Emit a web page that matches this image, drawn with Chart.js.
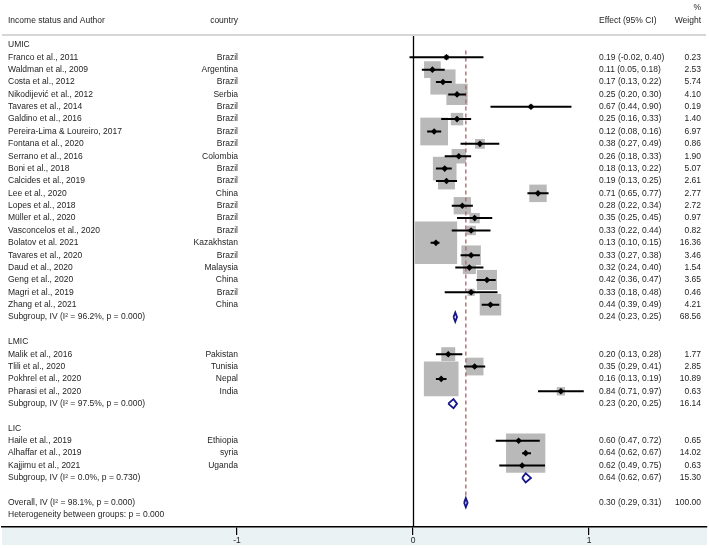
<!DOCTYPE html>
<html>
<head>
<meta charset="utf-8">
<script src="https://cdn.jsdelivr.net/npm/chart.js@4"></script>
<style>
  body { margin: 0; background: #fff; }
  canvas { display: block; }
</style>
</head>
<body>
<canvas id="forest" width="709" height="548"></canvas>
<script>
// studies, in the order they are listed
const studyNames = [
  'Franco et al., 2011', 'Waldman et al., 2009', 'Costa et al., 2012', 'Nikodijević et al., 2012',
  'Tavares et al., 2014', 'Galdino et al., 2016', 'Pereira-Lima & Loureiro, 2017', 'Fontana et al., 2020',
  'Serrano et al., 2016', 'Boni et al., 2018', 'Calcides et al., 2019', 'Lee et al., 2020',
  'Lopes et al., 2018', 'Müller et al., 2020', 'Vasconcelos et al., 2020', 'Bolatov et al. 2021',
  'Tavares et al., 2020', 'Daud et al., 2020', 'Geng et al., 2020', 'Magri et al., 2019', 'Zhang et al., 2021',
  'Malik et al., 2016', 'Tlili et al., 2020', 'Pokhrel et al., 2020', 'Pharasi et al., 2020',
  'Haile et al., 2019', 'Alhaffar et al., 2019', 'Kajjimu et al., 2021'
];
const countries = [
  'Brazil', 'Argentina', 'Brazil', 'Serbia', 'Brazil', 'Brazil', 'Brazil', 'Brazil', 'Colombia', 'Brazil',
  'Brazil', 'China', 'Brazil', 'Brazil', 'Brazil', 'Kazakhstan', 'Brazil', 'Malaysia', 'China', 'Brazil', 'China',
  'Pakistan', 'Tunisia', 'Nepal', 'India',
  'Ethiopia', 'syria', 'Uganda'
];
const studyGroup = [
  0, 0, 0, 0, 0, 0, 0, 0, 0, 0, 0, 0, 0, 0, 0, 0, 0, 0, 0, 0, 0,
  1, 1, 1, 1,
  2, 2, 2
];
const effects = [0.19, 0.11, 0.17, 0.25, 0.67, 0.25, 0.12, 0.38, 0.26, 0.18, 0.19, 0.71, 0.28, 0.35, 0.33, 0.13, 0.33, 0.32, 0.42, 0.33, 0.44,
  0.20, 0.35, 0.16, 0.84,
  0.60, 0.64, 0.62];
const ciLower = [-0.02, 0.05, 0.13, 0.20, 0.44, 0.16, 0.08, 0.27, 0.18, 0.13, 0.13, 0.65, 0.22, 0.25, 0.22, 0.10, 0.27, 0.24, 0.36, 0.18, 0.39,
  0.13, 0.29, 0.13, 0.71,
  0.47, 0.62, 0.49];
const ciUpper = [0.40, 0.18, 0.22, 0.30, 0.90, 0.33, 0.16, 0.49, 0.33, 0.22, 0.25, 0.77, 0.34, 0.45, 0.44, 0.15, 0.38, 0.40, 0.47, 0.48, 0.49,
  0.28, 0.41, 0.19, 0.97,
  0.72, 0.67, 0.75];
const weights = [0.23, 2.53, 5.74, 4.10, 0.19, 1.40, 6.97, 0.86, 1.90, 5.07, 2.61, 2.77, 2.72, 0.97, 0.82, 16.36, 3.46, 1.54, 3.65, 0.46, 4.21,
  1.77, 2.85, 10.89, 0.63,
  0.65, 14.02, 0.63];

// subgroups
const groupNames = ['UMIC', 'LMIC', 'LIC'];
const subgroupI2 = ['96.2', '97.5', '0.0'];
const subgroupP = ['0.000', '0.000', '0.730'];
const subgroupEffect = [0.24, 0.23, 0.64];
const subgroupLower = [0.23, 0.20, 0.62];
const subgroupUpper = [0.25, 0.25, 0.67];
const subgroupWeight = [68.56, 16.14, 15.30];

// overall
const overallEffect = 0.30;
const overallLower = 0.29;
const overallUpper = 0.31;
const overallWeight = 100.00;
const overallI2 = '98.1';
const overallP = '0.000';
const heterogeneityP = '0.000';

const xTicks = [-1, 0, 1];

// build the row list
const rows = [];
let r = 0;
groupNames.forEach((g, gi) => {
  rows.push({ type: 'header', label: g, row: r++ });
  studyNames.forEach((name, i) => {
    if (studyGroup[i] !== gi) return;
    rows.push({ type: 'study', label: name, country: countries[i], eff: effects[i], lo: ciLower[i], hi: ciUpper[i], w: weights[i], row: r++ });
  });
  rows.push({ type: 'subgroup', label: 'Subgroup, IV (I\u00b2 = ' + subgroupI2[gi] + '%, p = ' + subgroupP[gi] + ')',
    eff: subgroupEffect[gi], lo: subgroupLower[gi], hi: subgroupUpper[gi], w: subgroupWeight[gi], row: r++ });
  r++; // blank line
});
rows.push({ type: 'overall', label: 'Overall, IV (I\u00b2 = ' + overallI2 + '%, p = ' + overallP + ')',
  eff: overallEffect, lo: overallLower, hi: overallUpper, w: overallWeight, row: r++ });
rows.push({ type: 'note', label: 'Heterogeneity between groups: p = ' + heterogeneityP, row: r++ });

const studyRows = rows.filter(d => d.type === 'study');
const pooledRows = rows.filter(d => d.type === 'subgroup' || d.type === 'overall');
const overallRow = rows.find(d => d.type === 'overall').row;

// datasets
const boxSide = w => 10.5 * Math.sqrt(w);
const ciData = [];
studyRows.forEach(d => {
  ciData.push({ x: d.lo, y: d.row }, { x: d.hi, y: d.row }, { x: null, y: null });
});
const diamondHalf = 0.37;
const diamondData = [];
pooledRows.forEach(d => {
  diamondData.push(
    { x: d.lo, y: d.row }, { x: d.eff, y: d.row - diamondHalf }, { x: d.hi, y: d.row },
    { x: d.eff, y: d.row + diamondHalf }, { x: d.lo, y: d.row }, { x: null, y: null });
});

const FONT = '"Liberation Sans", Arial, sans-serif';
const TEXT = '#1e1e1e';

const forestText = {
  id: 'forestText',
  beforeDraw(chart) {
    const { ctx, chartArea } = chart;
    ctx.save();
    ctx.fillStyle = '#eaf2f3';
    ctx.fillRect(chartArea.left, chartArea.bottom, chartArea.right - chartArea.left, 18);
    ctx.restore();
  },
  beforeDatasetsDraw(chart) {
    const { ctx, chartArea, scales } = chart;
    ctx.save();
    // header rule
    ctx.strokeStyle = '#c8c8c8';
    ctx.lineWidth = 1.5;
    ctx.beginPath();
    ctx.moveTo(chartArea.left, chartArea.top);
    ctx.lineTo(chartArea.right - 1, chartArea.top);
    ctx.stroke();
    // null line
    const x0 = Math.round(scales.x.getPixelForValue(0)) + 0.5;
    ctx.strokeStyle = '#000';
    ctx.lineWidth = 1.3;
    ctx.beginPath();
    ctx.moveTo(x0, chartArea.top + 1);
    ctx.lineTo(x0, chartArea.bottom);
    ctx.stroke();
    ctx.restore();
  },
  afterDraw(chart) {
    const { ctx, scales } = chart;
    ctx.save();
    ctx.font = '8.5px ' + FONT;
    ctx.fillStyle = TEXT;
    ctx.textBaseline = 'middle';
    // column heads
    ctx.textAlign = 'left';
    ctx.fillText('Income status and Author', 8, 21);
    ctx.fillText('Effect (95% CI)', 599, 21);
    ctx.textAlign = 'right';
    ctx.fillText('country', 238, 21);
    ctx.fillText('%', 701, 8);
    ctx.fillText('Weight', 701, 21);

    rows.forEach(d => {
      const y = scales.y.getPixelForValue(d.row);
      ctx.textAlign = 'left';
      ctx.fillText(d.label, 8, y);
      if (d.country) {
        ctx.textAlign = 'right';
        ctx.fillText(d.country, 238, y);
      }
      if (d.eff !== undefined) {
        ctx.textAlign = 'left';
        ctx.fillText(d.eff.toFixed(2) + ' (' + d.lo.toFixed(2) + ', ' + d.hi.toFixed(2) + ')', 599, y);
        ctx.textAlign = 'right';
        ctx.fillText(d.w.toFixed(2), 701, y);
      }
    });
    ctx.restore();
  }
};

new Chart(document.getElementById('forest'), {
  type: 'scatter',
  data: {
    datasets: [
      {
        label: 'weight boxes',
        data: studyRows.map(d => ({ x: d.eff, y: d.row })),
        pointStyle: 'rect',
        pointRadius: studyRows.map(d => boxSide(d.w) / Math.SQRT2),
        backgroundColor: '#b9b9b9',
        borderWidth: 0,
        order: 6
      },
      {
        label: 'overall line',
        type: 'line',
        data: [{ x: overallEffect, y: 0.45 }, { x: overallEffect, y: overallRow }],
        borderColor: '#b56a73',
        borderWidth: 1.4,
        borderDash: [4, 3],
        pointRadius: 0,
        fill: false,
        order: 5
      },
      {
        label: 'ci',
        type: 'line',
        data: ciData,
        borderColor: '#000',
        borderWidth: 2,
        pointRadius: 0,
        spanGaps: false,
        fill: false,
        order: 4
      },
      {
        label: 'estimates',
        data: studyRows.map(d => ({ x: d.eff, y: d.row })),
        pointStyle: 'rectRot',
        pointRadius: 3.3,
        backgroundColor: '#000',
        borderWidth: 0,
        order: 3
      },
      {
        label: 'pooled',
        type: 'line',
        data: diamondData,
        borderColor: '#16168a',
        borderWidth: 1.8,
        borderJoinStyle: 'miter',
        pointRadius: 0,
        spanGaps: false,
        fill: false,
        order: 2
      }
    ]
  },
  options: {
    responsive: false,
    animation: false,
    devicePixelRatio: 1,
    layout: { autoPadding: false, padding: { top: 35, left: 2, right: 2, bottom: 0 } },
    plugins: { legend: { display: false }, tooltip: { enabled: false } },
    scales: {
      x: {
        type: 'linear',
        min: -2.335,
        max: 1.67,
        afterBuildTicks: scale => { scale.ticks = xTicks.map(v => ({ value: v })); },
        afterFit: scale => { scale.height = 21; },
        grid: { display: true, drawOnChartArea: false, drawTicks: true, tickLength: 8, color: '#000', lineWidth: 1.2 },
        border: { display: true, color: '#000', width: 1.5 },
        ticks: { color: TEXT, padding: 1, font: { size: 8.5, family: FONT }, maxRotation: 0 }
      },
      y: {
        type: 'linear',
        reverse: true,
        min: -0.8,
        max: 38.97,
        display: false
      }
    }
  },
  plugins: [forestText]
});
</script>
</body>
</html>
